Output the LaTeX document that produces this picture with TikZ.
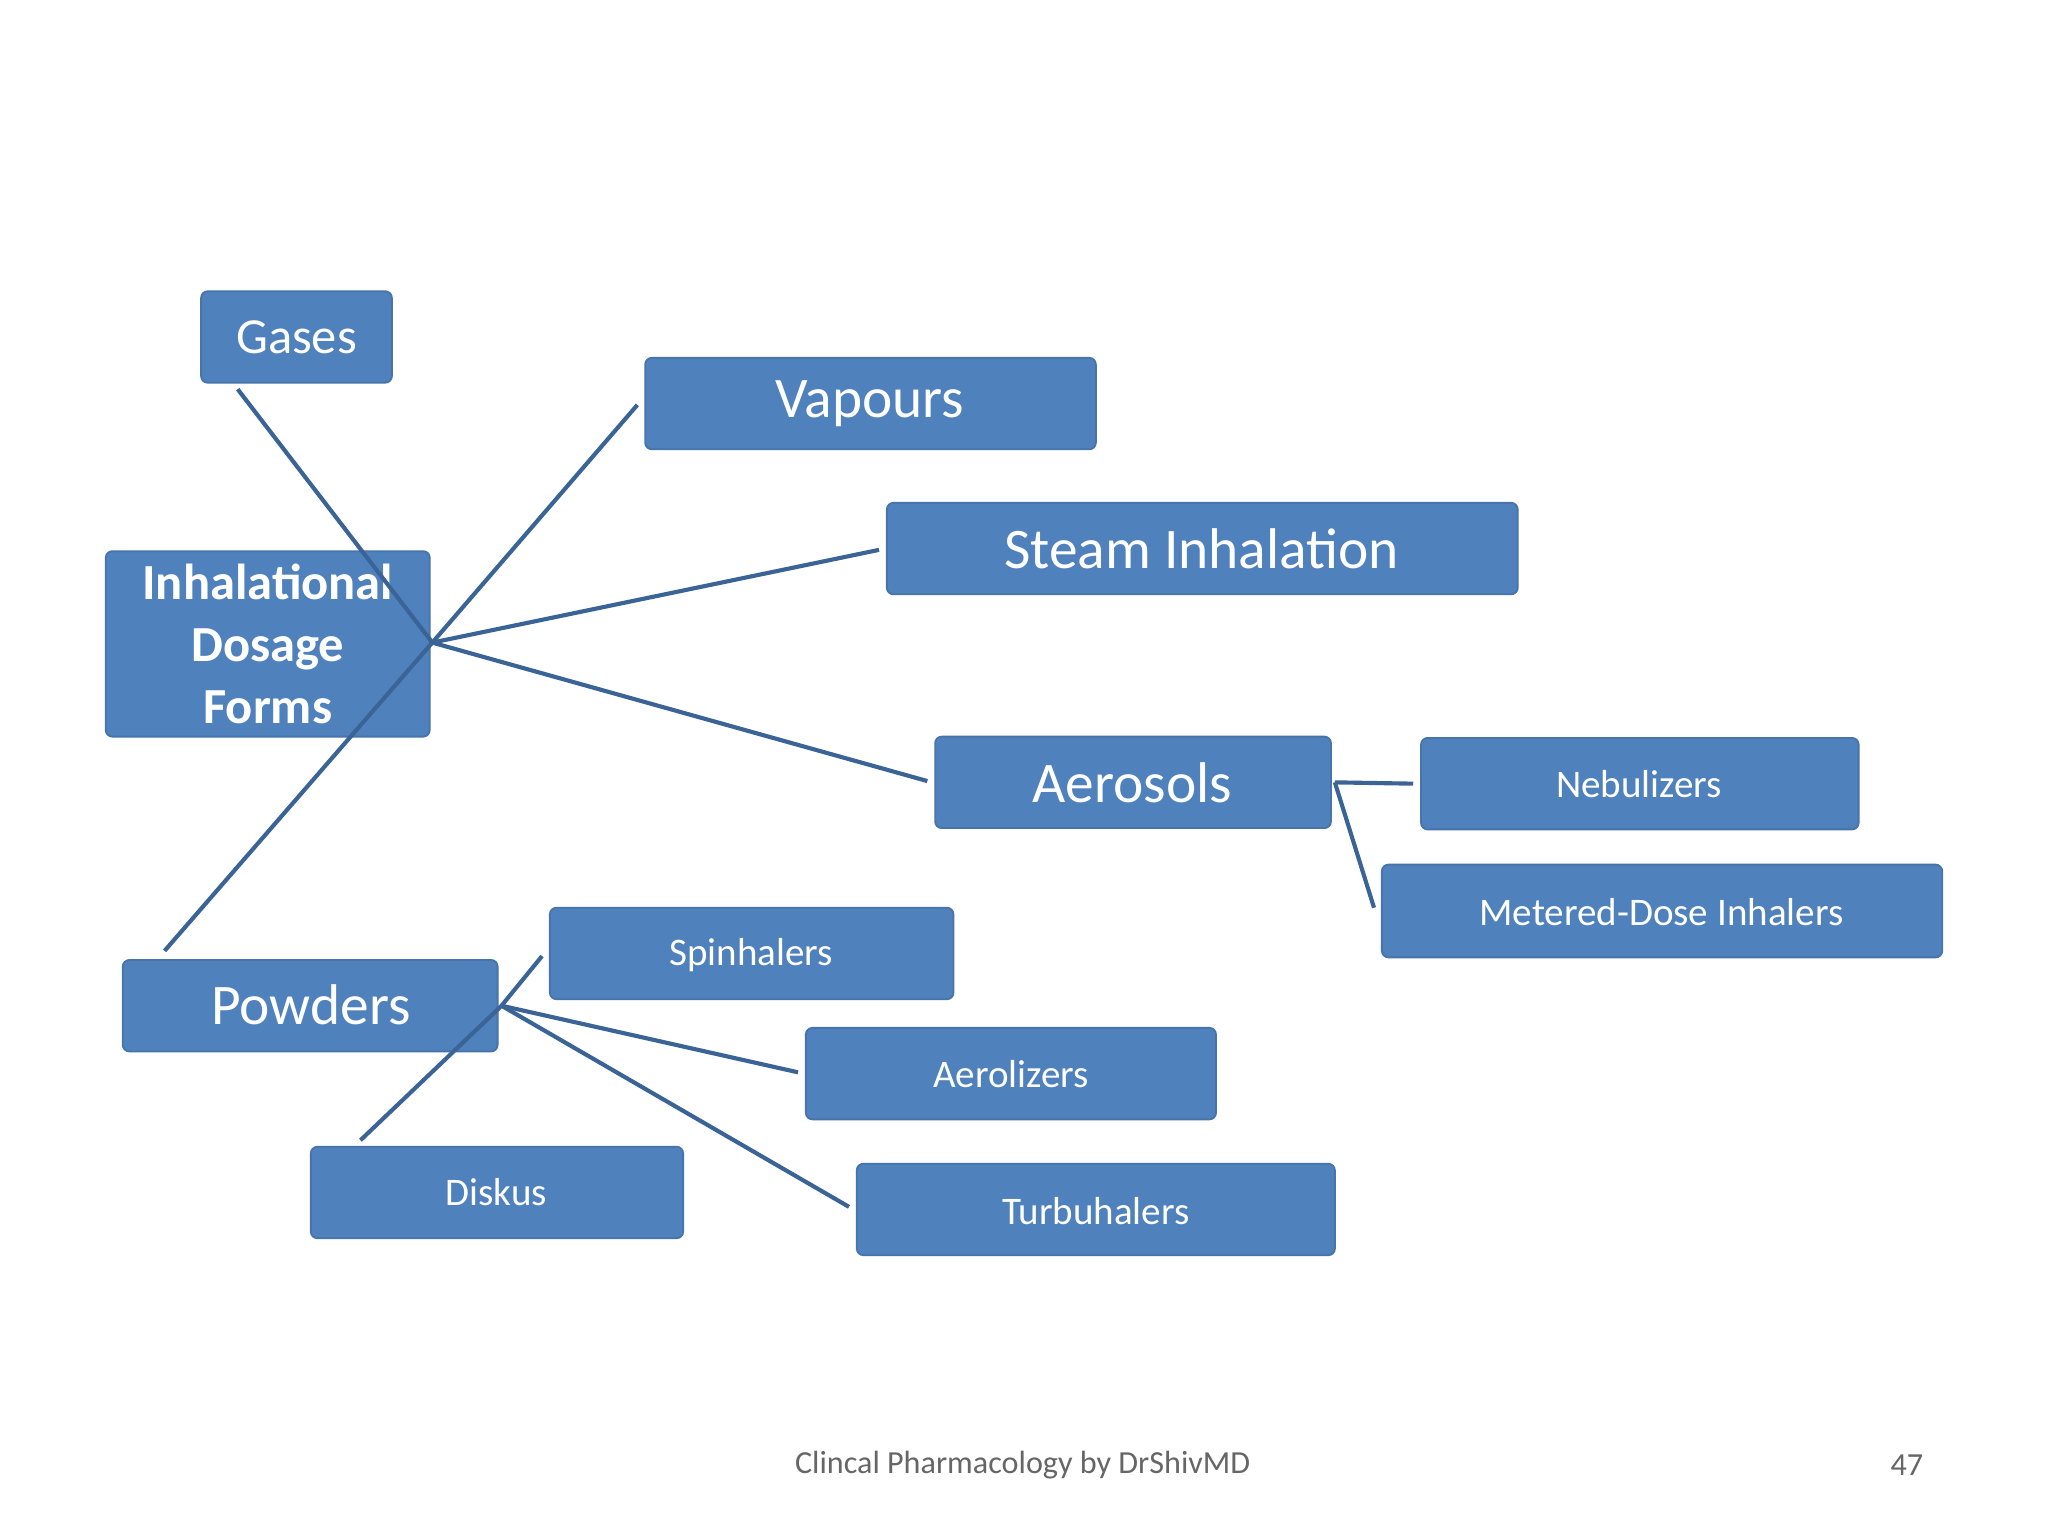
\documentclass[tikz,border=0pt]{standalone}
\usepackage{fontspec}
\setmainfont{Carlito}
\definecolor{boxc}{HTML}{4F81BD}
\definecolor{linec}{HTML}{3B6496}
\begin{document}
\begin{tikzpicture}[x=0.01cm,y=-0.01cm,
  box/.style={fill=boxc,draw=boxc!90!black,line width=0.4pt,rounded corners=0.05cm,inner sep=0pt},
  lbl/.style={text=white,align=center},
  con/.style={draw=linec,line width=0.9pt}]
\fill[white] (0,0) rectangle (1568,1176);
\newcommand{\bx}[6]{\path[box] (#1,#2) rectangle (#3,#4); \node[lbl,font=#6] (#5) at ({(#1+#3)/2},{(#2+#4)/2}) {\strut};}
\path[box] (154,223) rectangle (300,293); \node[lbl,font=\fontsize{11}{13}\selectfont] (gases) at (227,258) {Gases};
\path[box] (494,274) rectangle (839,344); \node[lbl,font=\fontsize{12.5}{14}\selectfont] (vap) at (666,309) {Vapours};
\path[box] (679,385) rectangle (1162,455); \node[lbl,font=\fontsize{12.5}{14}\selectfont] (steam) at (920,420) {Steam Inhalation};
\path[box] (81,422) rectangle (329,564); \node[lbl,font=\fontsize{11}{13.5}\selectfont\bfseries] (inh) at (205,493) {Inhalational\\Dosage\\Forms};
\path[box] (716,564) rectangle (1019,634); \node[lbl,font=\fontsize{12.5}{14}\selectfont] (aer) at (867,599) {Aerosols};
\path[box] (1088,565) rectangle (1423,635); \node[lbl,font=\fontsize{8.5}{10}\selectfont] (neb) at (1255,600) {Nebulizers};
\path[box] (1058,662) rectangle (1487,733); \node[lbl,font=\fontsize{8.5}{10}\selectfont] (mdi) at (1272,698) {Metered-Dose Inhalers};
\path[box] (421,695) rectangle (730,765); \node[lbl,font=\fontsize{8.5}{10}\selectfont] (spin) at (575,731) {Spinhalers};
\path[box] (94,735) rectangle (381,805); \node[lbl,font=\fontsize{12.5}{14}\selectfont] (pow) at (238,769) {Powders};
\path[box] (617,787) rectangle (931,857); \node[lbl,font=\fontsize{8.5}{10}\selectfont] (aerl) at (774,822) {Aerolizers};
\path[box] (238,878) rectangle (523,948); \node[lbl,font=\fontsize{8.5}{10}\selectfont] (disk) at (380,913) {Diskus};
\path[box] (656,891) rectangle (1022,961); \node[lbl,font=\fontsize{8.5}{10}\selectfont] (turb) at (839,927) {Turbuhalers};
\coordinate (h) at (331,492);
\coordinate (ah) at (1022,599);
\coordinate (ph) at (384,770);
\draw[con] (182,298) -- (h);
\draw[con] (h) -- (488,310);
\draw[con] (h) -- (673,421);
\draw[con] (h) -- (710,598);
\draw[con] (h) -- (126,728);
\draw[con] (ah) -- (1082,600);
\draw[con] (ah) -- (1052,695);
\draw[con] (ph) -- (415,732);
\draw[con] (ph) -- (611,821);
\draw[con] (ph) -- (650,924);
\draw[con] (ph) -- (276,873);
\node[text=gray!80!black,font=\fontsize{7}{8}\selectfont] (foot) at (783,1122) {Clincal Pharmacology by DrShivMD};
\node[text=gray!80!black,font=\fontsize{7}{8}\selectfont] (pg) at (1460,1122) {47};
\end{tikzpicture}
\end{document}
